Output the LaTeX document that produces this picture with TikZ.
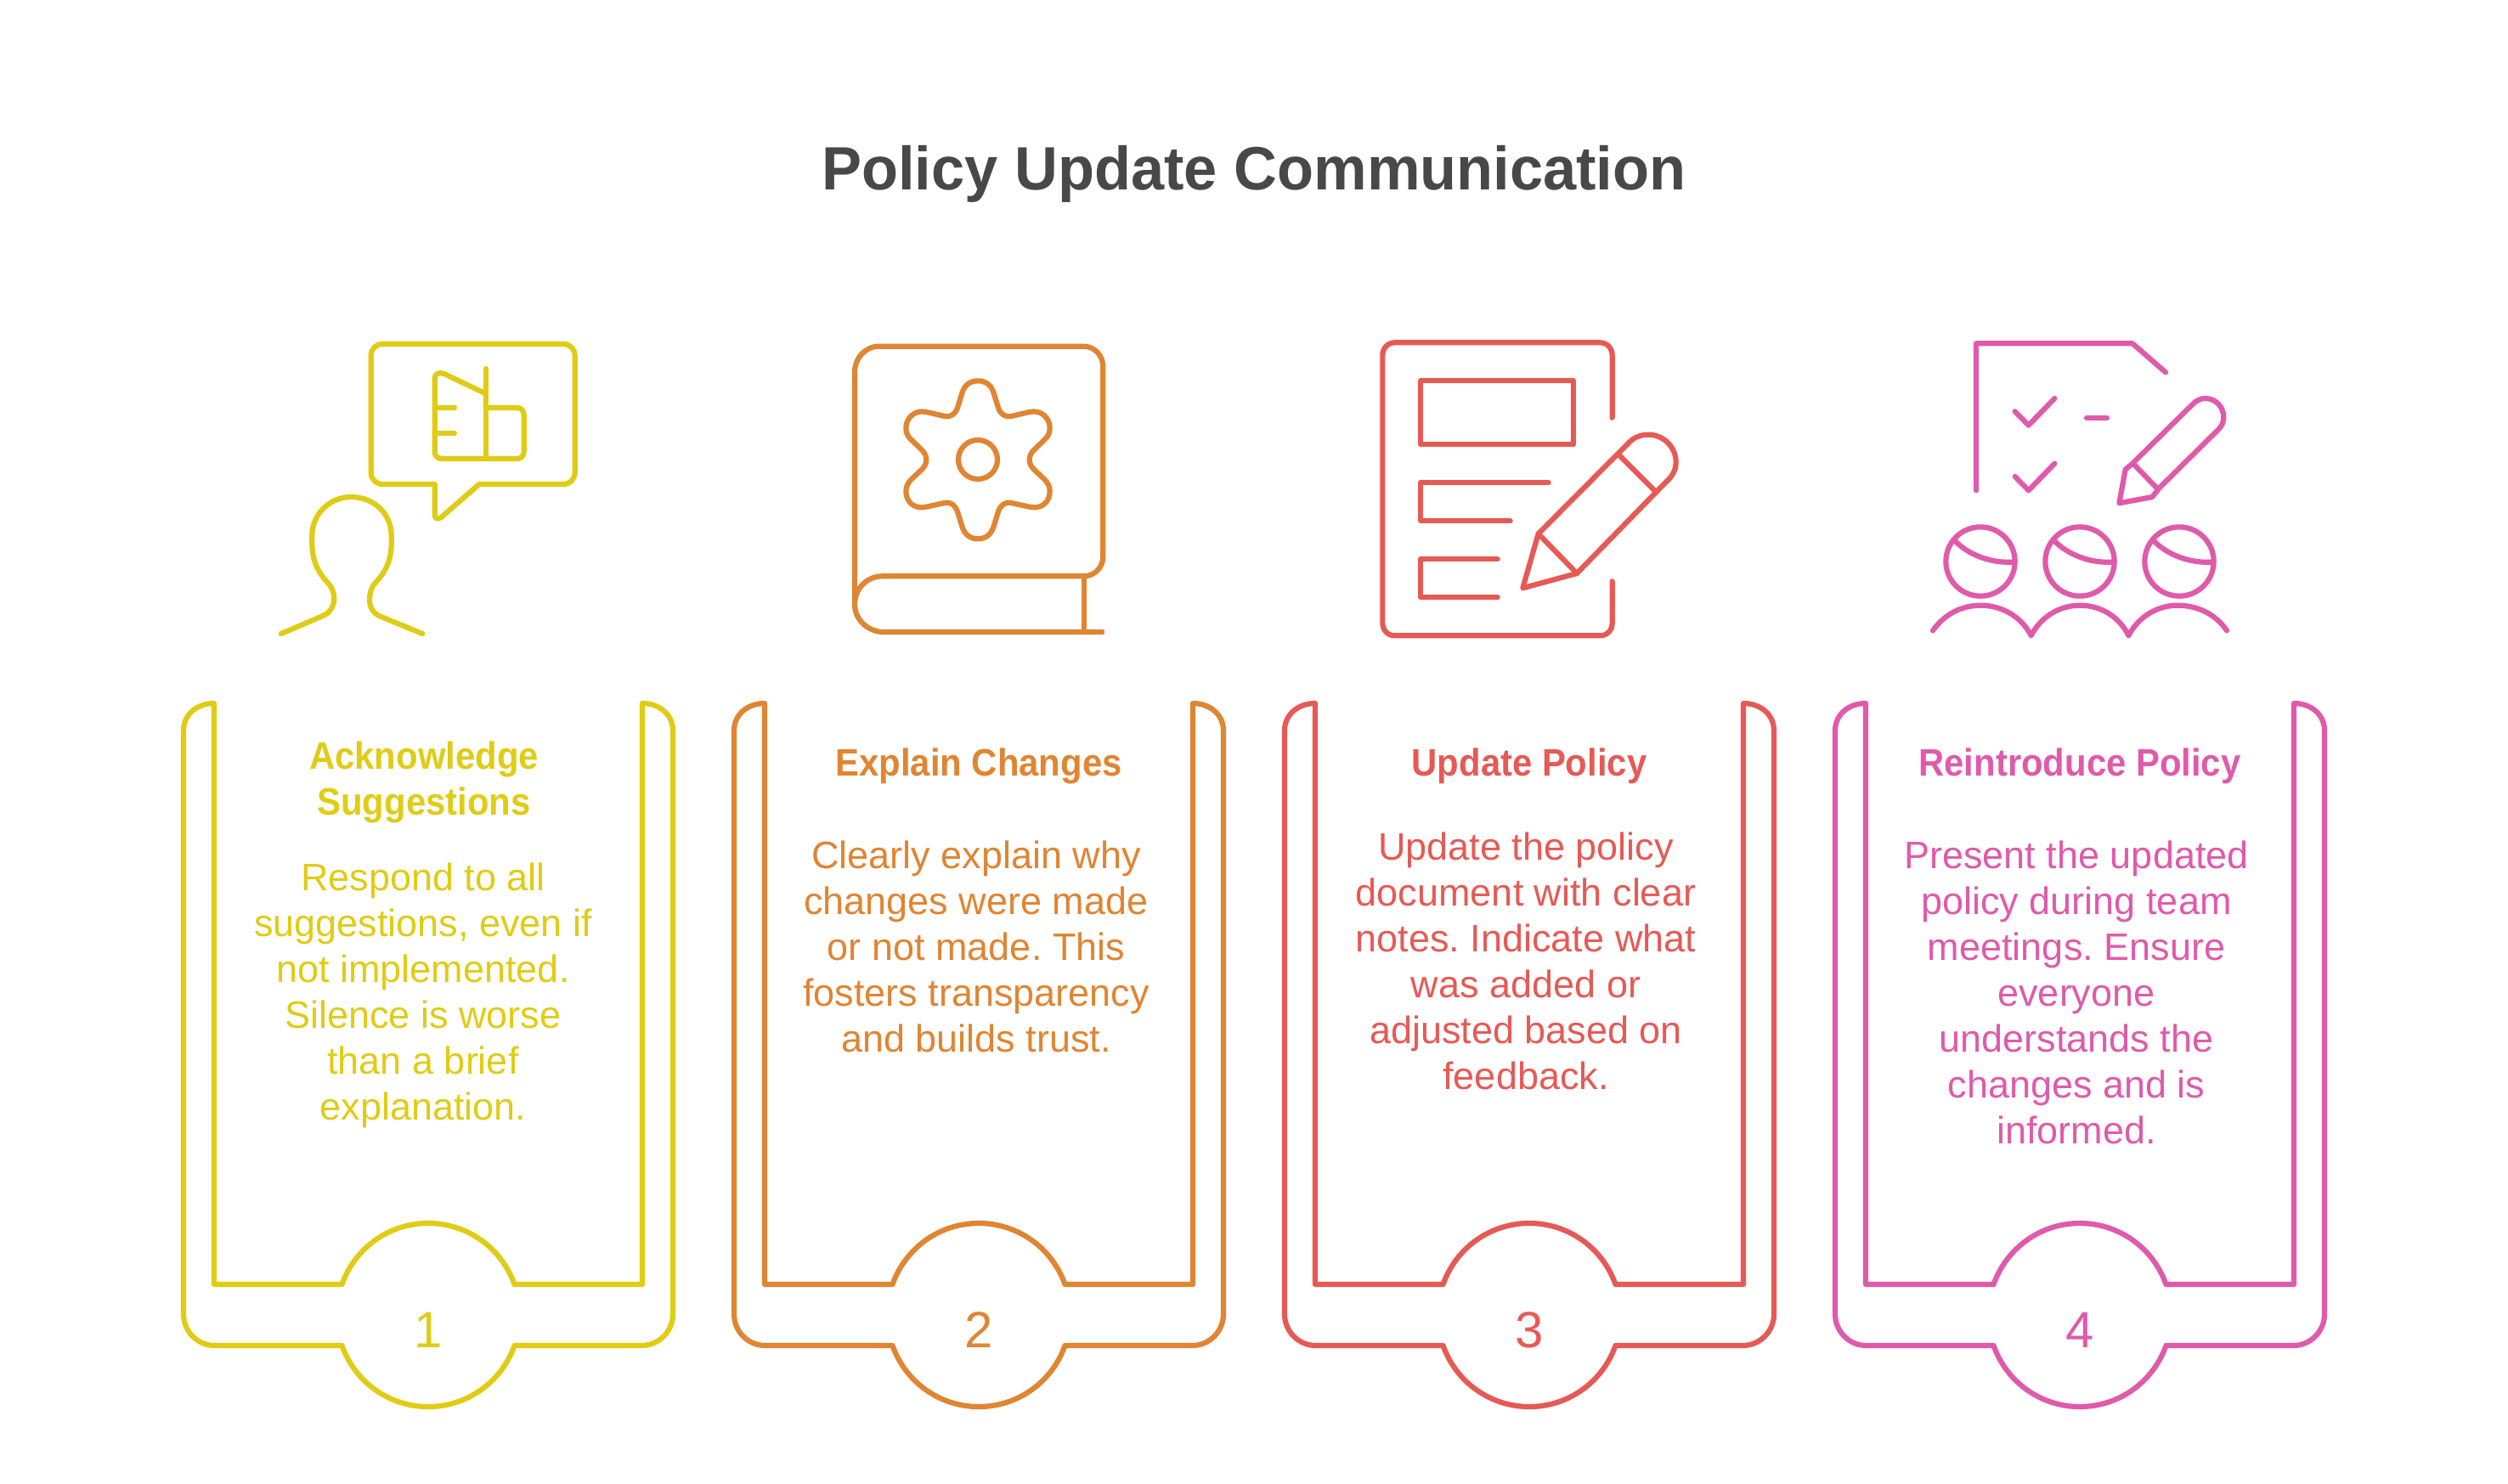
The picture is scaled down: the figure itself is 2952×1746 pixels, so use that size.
\documentclass[tikz,border=0pt]{standalone}
\usepackage{fontspec}
\setmainfont{Liberation Sans}
\newfontface\headface{Liberation Sans Bold}[FakeStretch=0.93]
\newfontface\titleface{Liberation Sans Bold}[FakeStretch=0.978]
\definecolor{cyellow}{HTML}{E0CC15}
\definecolor{corange}{HTML}{E08532}
\definecolor{cred}{HTML}{E65A55}
\definecolor{cpink}{HTML}{E05AAB}
\definecolor{ctitle}{HTML}{484848}
\newcommand\fl{\rule{0pt}{36pt}}
\newcommand\cardframe[2]{%
  \draw[lineart,#2,shift={(#1pt,0pt)}]
    (-252,828) -- (-252,1512) -- (-101.5,1512)
    .. controls (-86,1468.4) and (-45.4,1440) .. (0,1440)
    .. controls (45.4,1440) and (86,1468.4) .. (101.5,1512)
    -- (252,1512) -- (252,828)
    .. controls (272,828) and (288,841) .. (288,860)
    -- (288,1547) .. controls (288,1567) and (272,1584) .. (251,1584)
    -- (101.5,1584)
    .. controls (86,1627.6) and (45.4,1656) .. (0,1656)
    .. controls (-45.4,1656) and (-86,1627.6) .. (-101.5,1584)
    -- (-251,1584) .. controls (-272,1584) and (-288,1567) .. (-288,1547)
    -- (-288,860) .. controls (-288,841) and (-272,828) .. (-252,828) -- cycle;}
\tikzset{
  lineart/.style={line width=6.2pt,line cap=round,line join=round},
  headtext/.style={font=\fontsize{45}{54}\selectfont\headface\frenchspacing,align=center,anchor=north,inner sep=0pt},
  bodytext/.style={font=\fontsize{45}{54}\selectfont\frenchspacing,align=center,anchor=north,inner sep=0pt},
  numtext/.style={font=\fontsize{60}{60}\selectfont,anchor=base,inner sep=0pt},
  zoomed/.style={x=0.33333pt,y=-0.33333pt},
}
\begin{document}
\begin{tikzpicture}[x=1pt,y=-1pt]
\useasboundingbox (0,0) rectangle (2952,1746);
\fill[white] (0,0) rectangle (2952,1746);
\node[font=\fontsize{72}{80}\selectfont\titleface\frenchspacing,text=ctitle,anchor=base,inner sep=0pt] (title) at (1476,223) {Policy Update Communication};

% card 1
\cardframe{504}{cyellow}
\node[headtext,text=cyellow] (h1) at (499,869) {\fl Acknowledge\\Suggestions};
\node[bodytext,text=cyellow] (b1) at (498,1012) {\fl Respond to all\\suggestions, even if\\not implemented.\\Silence is worse\\than a brief\\explanation.};
\node[numtext,text=cyellow] (n1) at (504,1586) {1};
% card 2
\cardframe{1152}{corange}
\node[headtext,text=corange] (h2) at (1152,877) {\fl Explain Changes};
\node[bodytext,text=corange] (b2) at (1149,986) {\fl Clearly explain why\\changes were made\\or not made. This\\fosters transparency\\and builds trust.};
\node[numtext,text=corange] (n2) at (1152,1586) {2};
% card 3
\cardframe{1800}{cred}
\node[headtext,text=cred] (h3) at (1800,877) {\fl Update Policy};
\node[bodytext,text=cred] (b3) at (1796,976) {\fl Update the policy\\document with clear\\notes. Indicate what\\was added or\\adjusted based on\\feedback.};
\node[numtext,text=cred] (n3) at (1800,1586) {3};
% card 4
\cardframe{2448}{cpink}
\node[headtext,text=cpink] (h4) at (2448,877) {\fl Reintroduce Policy};
\node[bodytext,text=cpink] (b4) at (2444,986) {\fl Present the updated\\policy during team\\meetings. Ensure\\everyone\\understands the\\changes and is\\informed.};
\node[numtext,text=cpink] (n4) at (2448,1586) {4};

% icon 1
\begin{scope}[shift={(280pt,-360pt)},zoomed,lineart,draw=cyellow]
\draw (695,630) -- (510,630) .. controls (488,630) and (470,612) .. (470,590) -- (470,175)
  .. controls (470,153) and (488,135) .. (510,135) -- (1150,135)
  .. controls (1172,135) and (1190,153) .. (1190,175) -- (1190,590)
  .. controls (1190,612) and (1172,630) .. (1150,630) -- (852,630) -- (718,747)
  .. controls (708,756) and (695,752) .. (695,738) -- cycle;
\draw (695,360) -- (695,255) .. controls (695,242) and (710,232) .. (728,240) -- (875,310);
\draw (875,222) -- (875,540);
\draw (875,360) -- (985,360) .. controls (1000,360) and (1010,370) .. (1010,385) -- (1010,515)
  .. controls (1010,530) and (1000,540) .. (985,540) -- (720,540)
  .. controls (705,540) and (695,530) .. (695,515) -- (695,360) -- (765,360);
\draw (695,450) -- (765,450);
\end{scope}
\begin{scope}[shift={(320pt,-570pt)},zoomed,lineart,draw=cyellow]
\draw (33,528) -- (180,465) .. controls (205,455) and (220,430) .. (220,405)
  .. controls (220,380) and (210,360) .. (195,345)
  .. controls (165,315) and (142,270) .. (142,210)
  .. controls (142,200) and (142,190) .. (142,180)
  .. controls (142,105) and (205,45) .. (280,45)
  .. controls (360,45) and (422,105) .. (422,180)
  .. controls (422,190) and (422,200) .. (422,212)
  .. controls (422,270) and (398,315) .. (368,345)
  .. controls (355,358) and (345,380) .. (345,408)
  .. controls (345,435) and (358,455) .. (378,465) -- (532,528);
\end{scope}

% icon 2
\begin{scope}[shift={(960pt,-370pt)},zoomed,lineart,draw=corange]
\draw (138,1025) -- (138,205) .. controls (138,155) and (175,113) .. (225,113) -- (945,113)
  .. controls (985,113) and (1015,145) .. (1015,185) -- (1015,855)
  .. controls (1015,895) and (985,925) .. (945,925) -- (235,925)
  .. controls (180,925) and (138,970) .. (138,1025)
  .. controls (138,1078) and (185,1122) .. (240,1122) -- (1012,1122);
\draw (948,925) -- (948,1122);
\end{scope}
\begin{scope}[shift={(1040pt,-430pt)},zoomed,lineart,draw=corange]
\draw (333,55) .. controls (362,55) and (380,72) .. (387,92) -- (405,150)
  .. controls (412,172) and (428,184) .. (450,180) -- (515,165)
  .. controls (555,156) and (587,185) .. (587,222)
  .. controls (587,240) and (580,252) .. (568,263) -- (530,300)
  .. controls (510,320) and (510,347) .. (530,367) -- (568,403)
  .. controls (580,415) and (587,428) .. (587,445)
  .. controls (587,485) and (555,510) .. (515,500) -- (450,486)
  .. controls (428,482) and (412,495) .. (405,517) -- (387,575)
  .. controls (380,595) and (362,613) .. (333,613)
  .. controls (304,613) and (286,595) .. (279,575) -- (261,517)
  .. controls (254,495) and (238,482) .. (216,486) -- (151,500)
  .. controls (111,510) and (79,485) .. (79,445)
  .. controls (79,428) and (86,415) .. (98,403) -- (136,367)
  .. controls (156,347) and (156,320) .. (136,300) -- (98,263)
  .. controls (86,252) and (79,240) .. (79,222)
  .. controls (79,185) and (111,156) .. (151,165) -- (216,180)
  .. controls (238,184) and (254,172) .. (261,150) -- (279,92)
  .. controls (286,72) and (304,55) .. (333,55) -- cycle;
\draw (333,333) circle[radius=69];
\end{scope}

% icon 3
\begin{scope}[shift={(1590pt,-370pt)},zoomed,lineart,draw=cred]
\draw (923,365) -- (923,145) .. controls (923,120) and (905,100) .. (880,100) -- (155,100)
  .. controls (130,100) and (112,120) .. (112,145) -- (112,1090)
  .. controls (112,1115) and (130,1135) .. (155,1135) -- (880,1135)
  .. controls (905,1135) and (923,1115) .. (923,1090) -- (923,943);
\draw (247,235) rectangle (787,460);
\draw (698,595) -- (247,595) -- (247,730) -- (563,730);
\draw (518,865) -- (247,865) -- (247,1000) -- (518,1000);
\draw (662,775) -- (985,450) .. controls (1004,432) and (1028,425) .. (1050,425)
  .. controls (1105,425) and (1148,470) .. (1148,522)
  .. controls (1148,550) and (1135,572) .. (1115,590) -- (798,915) -- (607,967) -- cycle;
\draw (945,495) -- (1075,625);
\draw (662,775) -- (798,915);
\end{scope}

% icon 4
\begin{scope}[shift={(2240pt,-370pt)},zoomed,lineart,draw=cpink]
\draw (258,622) -- (258,103) -- (810,103) -- (927,205);
\draw (395,343) -- (443,392) -- (535,297);
\draw (395,573) -- (443,622) -- (535,527);
\draw (648,367) -- (720,367);
\draw (763,667) -- (785,548) -- (810,527) -- (1025,315)
  .. controls (1038,303) and (1052,297) .. (1067,297)
  .. controls (1103,297) and (1132,327) .. (1132,363)
  .. controls (1132,380) and (1125,395) .. (1115,405) -- (905,613) -- (880,645) -- cycle;
\draw (815,530) -- (900,618);
\draw (273,873) circle[radius=122];
\draw (624,873) circle[radius=122];
\draw (975,873) circle[radius=122];
\draw (180,797) .. controls (230,850) and (310,880) .. (392,875);
\draw (531,797) .. controls (581,850) and (661,880) .. (743,875);
\draw (882,797) .. controls (932,850) and (1012,880) .. (1094,875);
\draw (105,1117) .. controls (145,1060) and (205,1028) .. (275,1028)
  .. controls (350,1028) and (420,1070) .. (452,1135)
  .. controls (485,1070) and (550,1028) .. (625,1028)
  .. controls (700,1028) and (765,1070) .. (796,1135)
  .. controls (830,1070) and (895,1028) .. (970,1028)
  .. controls (1040,1028) and (1105,1060) .. (1143,1117);
\end{scope}
\end{tikzpicture}
\end{document}
